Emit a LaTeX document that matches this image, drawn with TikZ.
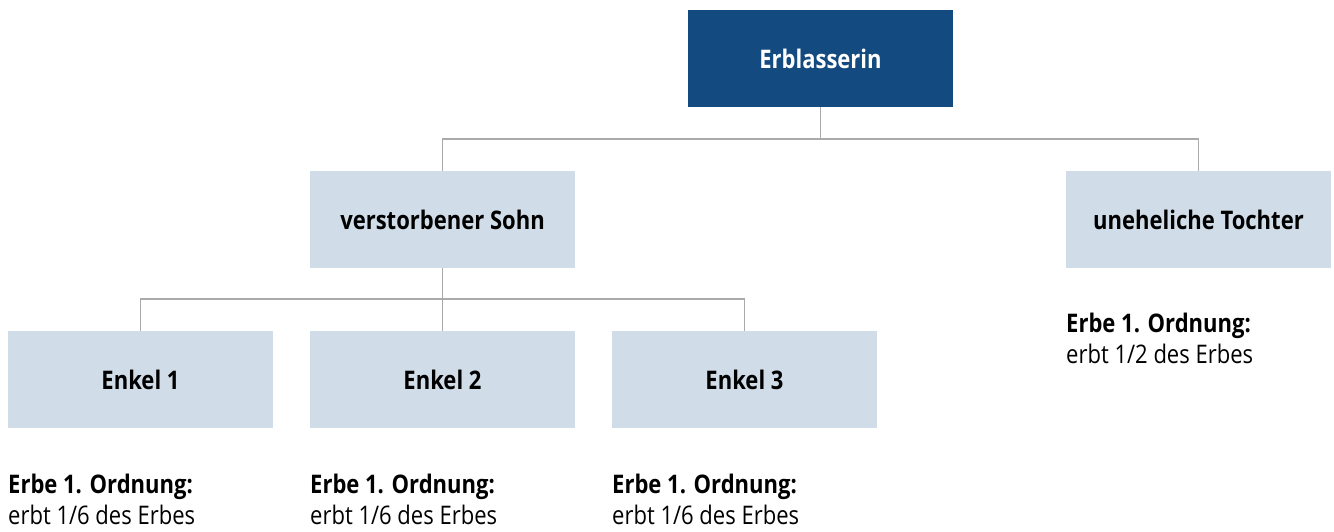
\documentclass[tikz,border=0pt]{standalone}
\usepackage{fontspec}
\setmainfont{Open Sans}[FakeStretch=0.86]
\definecolor{dblue}{HTML}{134A7F}
\definecolor{lblue}{HTML}{D0DCE7}
\definecolor{lgray}{HTML}{AAAAAA}
\tikzset{
  box/.style={minimum width=265pt, minimum height=97pt, inner sep=0pt, font=\fontsize{25.6}{30}\selectfont\bfseries},
  topbox/.style={box, fill=dblue, text=white},
  subbox/.style={box, fill=lblue, text=black},
  conn/.style={draw=lgray, line width=1.5pt},
  note/.style={anchor=base west, align=left, inner sep=0pt, font=\fontsize{25.6}{31}\selectfont}
}
\begin{document}
\begin{tikzpicture}[x=1pt,y=-1pt]
\useasboundingbox (0,0) rectangle (1334,531);
\node[topbox] (erb) at (820.5,58.5) {Erblasserin};
\node[subbox] (sohn) at (442.5,219.5) {verstorbener Sohn};
\node[subbox] (toch) at (1198.5,219.5) {uneheliche Tochter};
\node[subbox] (e1) at (140.5,379.5) {Enkel 1};
\node[subbox] (e2) at (442.5,379.5) {Enkel 2};
\node[subbox] (e3) at (744.5,379.5) {Enkel 3};
\coordinate (j1) at (820.5,139);
\coordinate (j2) at (442.5,299);
\draw[conn] (erb.south) -- (j1);
\draw[conn] (sohn.north) |- (j1) -| (toch.north);
\draw[conn] (sohn.south) -- (j2);
\draw[conn] (e1.north) |- (j2) -| (e3.north);
\draw[conn] (e2.north) -- (j2);
\node[note] (n1) at (8,524) {\textbf{Erbe 1. Ordnung:}\\erbt 1/6 des Erbes};
\node[note] (n2) at (310,524) {\textbf{Erbe 1. Ordnung:}\\erbt 1/6 des Erbes};
\node[note] (n3) at (612,524) {\textbf{Erbe 1. Ordnung:}\\erbt 1/6 des Erbes};
\node[note] (n4) at (1066,363) {\textbf{Erbe 1. Ordnung:}\\erbt 1/2 des Erbes};
\end{tikzpicture}
\end{document}
